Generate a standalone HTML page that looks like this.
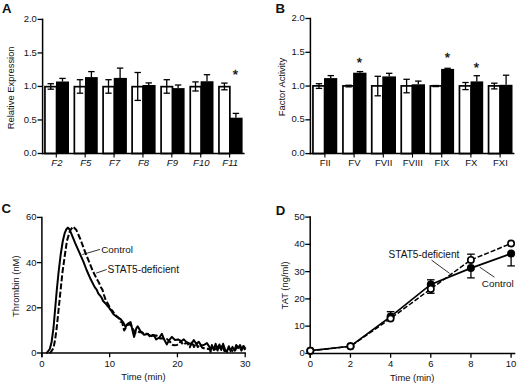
<!DOCTYPE html>
<html><head><meta charset="utf-8"><title>Figure</title>
<style>
html,body{margin:0;padding:0;background:#fff;}
body{width:520px;height:387px;overflow:hidden;font-family:"Liberation Sans",sans-serif;}
svg{display:block;}
svg text{font-family:"Liberation Sans",sans-serif;fill:#111;}
</style></head><body>
<svg width="520" height="387" viewBox="0 0 520 387">
<rect x="0" y="0" width="520" height="387" fill="#fff"/>
<rect x="44.95" y="86.65" width="11.60" height="66.85" fill="#fff" stroke="#000" stroke-width="1.7"/>
<rect x="56.00" y="81.50" width="13.00" height="72.00" fill="#000"/>
<line x1="50.75" y1="83.70" x2="50.75" y2="89.20" stroke="#000" stroke-width="1.3" />
<line x1="47.55" y1="83.70" x2="53.95" y2="83.70" stroke="#000" stroke-width="1.3" />
<line x1="47.55" y1="89.20" x2="53.95" y2="89.20" stroke="#000" stroke-width="1.3" />
<line x1="62.50" y1="78.40" x2="62.50" y2="81.50" stroke="#000" stroke-width="1.3" />
<line x1="59.30" y1="78.40" x2="65.70" y2="78.40" stroke="#000" stroke-width="1.3" />
<rect x="74.35" y="86.65" width="11.20" height="66.85" fill="#fff" stroke="#000" stroke-width="1.7"/>
<rect x="85.00" y="77.10" width="12.75" height="76.40" fill="#000"/>
<line x1="80.00" y1="79.70" x2="80.00" y2="93.20" stroke="#000" stroke-width="1.3" />
<line x1="76.80" y1="79.70" x2="83.20" y2="79.70" stroke="#000" stroke-width="1.3" />
<line x1="76.80" y1="93.20" x2="83.20" y2="93.20" stroke="#000" stroke-width="1.3" />
<line x1="91.40" y1="71.60" x2="91.40" y2="77.10" stroke="#000" stroke-width="1.3" />
<line x1="88.20" y1="71.60" x2="94.60" y2="71.60" stroke="#000" stroke-width="1.3" />
<rect x="103.10" y="86.65" width="11.20" height="66.85" fill="#fff" stroke="#000" stroke-width="1.7"/>
<rect x="113.75" y="77.90" width="13.15" height="75.60" fill="#000"/>
<line x1="108.50" y1="79.70" x2="108.50" y2="93.20" stroke="#000" stroke-width="1.3" />
<line x1="105.30" y1="79.70" x2="111.70" y2="79.70" stroke="#000" stroke-width="1.3" />
<line x1="105.30" y1="93.20" x2="111.70" y2="93.20" stroke="#000" stroke-width="1.3" />
<line x1="120.10" y1="68.10" x2="120.10" y2="77.90" stroke="#000" stroke-width="1.3" />
<line x1="116.90" y1="68.10" x2="123.30" y2="68.10" stroke="#000" stroke-width="1.3" />
<rect x="132.10" y="86.65" width="10.95" height="66.85" fill="#fff" stroke="#000" stroke-width="1.7"/>
<rect x="142.50" y="85.00" width="13.10" height="68.50" fill="#000"/>
<line x1="137.70" y1="72.50" x2="137.70" y2="100.40" stroke="#000" stroke-width="1.3" />
<line x1="134.50" y1="72.50" x2="140.90" y2="72.50" stroke="#000" stroke-width="1.3" />
<line x1="134.50" y1="100.40" x2="140.90" y2="100.40" stroke="#000" stroke-width="1.3" />
<line x1="148.75" y1="82.90" x2="148.75" y2="85.00" stroke="#000" stroke-width="1.3" />
<line x1="145.55" y1="82.90" x2="151.95" y2="82.90" stroke="#000" stroke-width="1.3" />
<rect x="161.10" y="86.65" width="11.35" height="66.85" fill="#fff" stroke="#000" stroke-width="1.7"/>
<rect x="171.90" y="88.10" width="12.70" height="65.40" fill="#000"/>
<line x1="166.75" y1="79.70" x2="166.75" y2="93.20" stroke="#000" stroke-width="1.3" />
<line x1="163.55" y1="79.70" x2="169.95" y2="79.70" stroke="#000" stroke-width="1.3" />
<line x1="163.55" y1="93.20" x2="169.95" y2="93.20" stroke="#000" stroke-width="1.3" />
<line x1="178.10" y1="85.00" x2="178.10" y2="88.10" stroke="#000" stroke-width="1.3" />
<line x1="174.90" y1="85.00" x2="181.30" y2="85.00" stroke="#000" stroke-width="1.3" />
<rect x="190.25" y="86.65" width="10.90" height="66.85" fill="#fff" stroke="#000" stroke-width="1.7"/>
<rect x="200.60" y="81.25" width="12.90" height="72.25" fill="#000"/>
<line x1="195.50" y1="81.90" x2="195.50" y2="91.00" stroke="#000" stroke-width="1.3" />
<line x1="192.30" y1="81.90" x2="198.70" y2="81.90" stroke="#000" stroke-width="1.3" />
<line x1="192.30" y1="91.00" x2="198.70" y2="91.00" stroke="#000" stroke-width="1.3" />
<line x1="207.00" y1="74.70" x2="207.00" y2="81.25" stroke="#000" stroke-width="1.3" />
<line x1="203.80" y1="74.70" x2="210.20" y2="74.70" stroke="#000" stroke-width="1.3" />
<rect x="218.95" y="86.65" width="10.90" height="66.85" fill="#fff" stroke="#000" stroke-width="1.7"/>
<rect x="229.30" y="117.70" width="13.30" height="35.80" fill="#000"/>
<line x1="224.40" y1="83.10" x2="224.40" y2="89.80" stroke="#000" stroke-width="1.3" />
<line x1="221.20" y1="83.10" x2="227.60" y2="83.10" stroke="#000" stroke-width="1.3" />
<line x1="221.20" y1="89.80" x2="227.60" y2="89.80" stroke="#000" stroke-width="1.3" />
<line x1="235.90" y1="113.40" x2="235.90" y2="117.70" stroke="#000" stroke-width="1.3" />
<line x1="232.70" y1="113.40" x2="239.10" y2="113.40" stroke="#000" stroke-width="1.3" />
<line x1="42.60" y1="18.65" x2="42.60" y2="154.25" stroke="#000" stroke-width="1.5" />
<line x1="41.85" y1="153.50" x2="244.60" y2="153.50" stroke="#000" stroke-width="1.5" />
<line x1="37.60" y1="153.50" x2="42.60" y2="153.50" stroke="#000" stroke-width="1.3" />
<text x="36.90" y="156.10" font-size="9.5" text-anchor="end" font-weight="normal" font-style="normal">0.0</text>
<line x1="37.60" y1="119.97" x2="42.60" y2="119.97" stroke="#000" stroke-width="1.3" />
<text x="36.90" y="122.57" font-size="9.5" text-anchor="end" font-weight="normal" font-style="normal">0.5</text>
<line x1="37.60" y1="86.45" x2="42.60" y2="86.45" stroke="#000" stroke-width="1.3" />
<text x="36.90" y="89.05" font-size="9.5" text-anchor="end" font-weight="normal" font-style="normal">1.0</text>
<line x1="37.60" y1="52.93" x2="42.60" y2="52.93" stroke="#000" stroke-width="1.3" />
<text x="36.90" y="55.53" font-size="9.5" text-anchor="end" font-weight="normal" font-style="normal">1.5</text>
<line x1="37.60" y1="19.40" x2="42.60" y2="19.40" stroke="#000" stroke-width="1.3" />
<text x="36.90" y="22.00" font-size="9.5" text-anchor="end" font-weight="normal" font-style="normal">2.0</text>
<line x1="56.30" y1="153.50" x2="56.30" y2="157.50" stroke="#000" stroke-width="1.1" />
<text x="56.90" y="165.60" font-size="9.5" text-anchor="middle" font-weight="normal" font-style="italic">F2</text>
<line x1="85.18" y1="153.50" x2="85.18" y2="157.50" stroke="#000" stroke-width="1.1" />
<text x="85.78" y="165.60" font-size="9.5" text-anchor="middle" font-weight="normal" font-style="italic">F5</text>
<line x1="114.06" y1="153.50" x2="114.06" y2="157.50" stroke="#000" stroke-width="1.1" />
<text x="114.66" y="165.60" font-size="9.5" text-anchor="middle" font-weight="normal" font-style="italic">F7</text>
<line x1="142.94" y1="153.50" x2="142.94" y2="157.50" stroke="#000" stroke-width="1.1" />
<text x="143.54" y="165.60" font-size="9.5" text-anchor="middle" font-weight="normal" font-style="italic">F8</text>
<line x1="171.82" y1="153.50" x2="171.82" y2="157.50" stroke="#000" stroke-width="1.1" />
<text x="172.42" y="165.60" font-size="9.5" text-anchor="middle" font-weight="normal" font-style="italic">F9</text>
<line x1="200.70" y1="153.50" x2="200.70" y2="157.50" stroke="#000" stroke-width="1.1" />
<text x="201.30" y="165.60" font-size="9.5" text-anchor="middle" font-weight="normal" font-style="italic">F10</text>
<line x1="229.58" y1="153.50" x2="229.58" y2="157.50" stroke="#000" stroke-width="1.1" />
<text x="230.18" y="165.60" font-size="9.5" text-anchor="middle" font-weight="normal" font-style="italic">F11</text>
<text x="235.50" y="78.65" font-size="13.5" text-anchor="middle" stroke="#111" stroke-width="0.35">*</text>
<text x="14.40" y="87.85" font-size="9.4" text-anchor="middle" font-weight="normal" font-style="normal" transform="rotate(-90 14.40 87.85)">Relative Expression</text>
<text x="2.00" y="13.40" font-size="13.2" text-anchor="start" font-weight="bold" font-style="normal">A</text>
<rect x="312.95" y="85.90" width="11.60" height="67.70" fill="#fff" stroke="#000" stroke-width="1.7"/>
<rect x="324.00" y="78.10" width="13.25" height="75.50" fill="#000"/>
<line x1="319.00" y1="83.70" x2="319.00" y2="88.40" stroke="#000" stroke-width="1.3" />
<line x1="315.80" y1="83.70" x2="322.20" y2="83.70" stroke="#000" stroke-width="1.3" />
<line x1="315.80" y1="88.40" x2="322.20" y2="88.40" stroke="#000" stroke-width="1.3" />
<line x1="330.75" y1="75.60" x2="330.75" y2="78.10" stroke="#000" stroke-width="1.3" />
<line x1="327.55" y1="75.60" x2="333.95" y2="75.60" stroke="#000" stroke-width="1.3" />
<rect x="342.95" y="85.90" width="10.70" height="67.70" fill="#fff" stroke="#000" stroke-width="1.7"/>
<rect x="353.10" y="72.70" width="13.40" height="80.90" fill="#000"/>
<line x1="348.60" y1="85.24" x2="348.60" y2="86.86" stroke="#000" stroke-width="1.3" />
<line x1="345.40" y1="85.24" x2="351.80" y2="85.24" stroke="#000" stroke-width="1.3" />
<line x1="345.40" y1="86.86" x2="351.80" y2="86.86" stroke="#000" stroke-width="1.3" />
<line x1="360.00" y1="71.60" x2="360.00" y2="72.70" stroke="#000" stroke-width="1.3" />
<line x1="356.80" y1="71.60" x2="363.20" y2="71.60" stroke="#000" stroke-width="1.3" />
<rect x="371.75" y="85.90" width="11.10" height="67.70" fill="#fff" stroke="#000" stroke-width="1.7"/>
<rect x="382.30" y="76.40" width="13.70" height="77.20" fill="#000"/>
<line x1="377.75" y1="76.30" x2="377.75" y2="95.80" stroke="#000" stroke-width="1.3" />
<line x1="374.55" y1="76.30" x2="380.95" y2="76.30" stroke="#000" stroke-width="1.3" />
<line x1="374.55" y1="95.80" x2="380.95" y2="95.80" stroke="#000" stroke-width="1.3" />
<line x1="389.20" y1="73.30" x2="389.20" y2="76.40" stroke="#000" stroke-width="1.3" />
<line x1="386.00" y1="73.30" x2="392.40" y2="73.30" stroke="#000" stroke-width="1.3" />
<rect x="401.25" y="85.90" width="11.10" height="67.70" fill="#fff" stroke="#000" stroke-width="1.7"/>
<rect x="411.80" y="84.30" width="13.20" height="69.30" fill="#000"/>
<line x1="406.60" y1="79.30" x2="406.60" y2="92.80" stroke="#000" stroke-width="1.3" />
<line x1="403.40" y1="79.30" x2="409.80" y2="79.30" stroke="#000" stroke-width="1.3" />
<line x1="403.40" y1="92.80" x2="409.80" y2="92.80" stroke="#000" stroke-width="1.3" />
<line x1="418.30" y1="81.10" x2="418.30" y2="84.30" stroke="#000" stroke-width="1.3" />
<line x1="415.10" y1="81.10" x2="421.50" y2="81.10" stroke="#000" stroke-width="1.3" />
<rect x="430.35" y="85.90" width="11.30" height="67.70" fill="#fff" stroke="#000" stroke-width="1.7"/>
<rect x="441.10" y="68.90" width="13.00" height="84.70" fill="#000"/>
<line x1="435.70" y1="85.51" x2="435.70" y2="86.59" stroke="#000" stroke-width="1.3" />
<line x1="432.50" y1="85.51" x2="438.90" y2="85.51" stroke="#000" stroke-width="1.3" />
<line x1="432.50" y1="86.59" x2="438.90" y2="86.59" stroke="#000" stroke-width="1.3" />
<line x1="447.60" y1="68.30" x2="447.60" y2="68.90" stroke="#000" stroke-width="1.3" />
<line x1="444.40" y1="68.30" x2="450.80" y2="68.30" stroke="#000" stroke-width="1.3" />
<rect x="459.45" y="85.90" width="11.60" height="67.70" fill="#fff" stroke="#000" stroke-width="1.7"/>
<rect x="470.50" y="81.40" width="12.70" height="72.20" fill="#000"/>
<line x1="465.50" y1="82.50" x2="465.50" y2="89.60" stroke="#000" stroke-width="1.3" />
<line x1="462.30" y1="82.50" x2="468.70" y2="82.50" stroke="#000" stroke-width="1.3" />
<line x1="462.30" y1="89.60" x2="468.70" y2="89.60" stroke="#000" stroke-width="1.3" />
<line x1="476.80" y1="75.70" x2="476.80" y2="81.40" stroke="#000" stroke-width="1.3" />
<line x1="473.60" y1="75.70" x2="480.00" y2="75.70" stroke="#000" stroke-width="1.3" />
<rect x="488.55" y="85.90" width="11.50" height="67.70" fill="#fff" stroke="#000" stroke-width="1.7"/>
<rect x="499.50" y="84.80" width="13.00" height="68.80" fill="#000"/>
<line x1="494.30" y1="83.20" x2="494.30" y2="88.90" stroke="#000" stroke-width="1.3" />
<line x1="491.10" y1="83.20" x2="497.50" y2="83.20" stroke="#000" stroke-width="1.3" />
<line x1="491.10" y1="88.90" x2="497.50" y2="88.90" stroke="#000" stroke-width="1.3" />
<line x1="506.10" y1="75.20" x2="506.10" y2="84.80" stroke="#000" stroke-width="1.3" />
<line x1="502.90" y1="75.20" x2="509.30" y2="75.20" stroke="#000" stroke-width="1.3" />
<line x1="310.40" y1="17.75" x2="310.40" y2="154.35" stroke="#000" stroke-width="1.5" />
<line x1="309.65" y1="153.60" x2="514.40" y2="153.60" stroke="#000" stroke-width="1.5" />
<line x1="305.40" y1="153.60" x2="310.40" y2="153.60" stroke="#000" stroke-width="1.3" />
<text x="304.70" y="156.20" font-size="9.5" text-anchor="end" font-weight="normal" font-style="normal">0.0</text>
<line x1="305.40" y1="119.82" x2="310.40" y2="119.82" stroke="#000" stroke-width="1.3" />
<text x="304.70" y="122.42" font-size="9.5" text-anchor="end" font-weight="normal" font-style="normal">0.5</text>
<line x1="305.40" y1="86.05" x2="310.40" y2="86.05" stroke="#000" stroke-width="1.3" />
<text x="304.70" y="88.65" font-size="9.5" text-anchor="end" font-weight="normal" font-style="normal">1.0</text>
<line x1="305.40" y1="52.28" x2="310.40" y2="52.28" stroke="#000" stroke-width="1.3" />
<text x="304.70" y="54.88" font-size="9.5" text-anchor="end" font-weight="normal" font-style="normal">1.5</text>
<line x1="305.40" y1="18.50" x2="310.40" y2="18.50" stroke="#000" stroke-width="1.3" />
<text x="304.70" y="21.10" font-size="9.5" text-anchor="end" font-weight="normal" font-style="normal">2.0</text>
<line x1="324.90" y1="153.60" x2="324.90" y2="157.60" stroke="#000" stroke-width="1.1" />
<text x="325.20" y="165.70" font-size="9.5" text-anchor="middle" font-weight="normal" font-style="normal">FII</text>
<line x1="354.10" y1="153.60" x2="354.10" y2="157.60" stroke="#000" stroke-width="1.1" />
<text x="354.40" y="165.70" font-size="9.5" text-anchor="middle" font-weight="normal" font-style="normal">FV</text>
<line x1="383.30" y1="153.60" x2="383.30" y2="157.60" stroke="#000" stroke-width="1.1" />
<text x="383.60" y="165.70" font-size="9.5" text-anchor="middle" font-weight="normal" font-style="normal">FVII</text>
<line x1="412.50" y1="153.60" x2="412.50" y2="157.60" stroke="#000" stroke-width="1.1" />
<text x="412.80" y="165.70" font-size="9.5" text-anchor="middle" font-weight="normal" font-style="normal">FVIII</text>
<line x1="441.70" y1="153.60" x2="441.70" y2="157.60" stroke="#000" stroke-width="1.1" />
<text x="442.00" y="165.70" font-size="9.5" text-anchor="middle" font-weight="normal" font-style="normal">FIX</text>
<line x1="470.90" y1="153.60" x2="470.90" y2="157.60" stroke="#000" stroke-width="1.1" />
<text x="471.20" y="165.70" font-size="9.5" text-anchor="middle" font-weight="normal" font-style="normal">FX</text>
<line x1="500.10" y1="153.60" x2="500.10" y2="157.60" stroke="#000" stroke-width="1.1" />
<text x="500.40" y="165.70" font-size="9.5" text-anchor="middle" font-weight="normal" font-style="normal">FXI</text>
<text x="359.50" y="66.50" font-size="13.5" text-anchor="middle" stroke="#111" stroke-width="0.35">*</text>
<text x="447.50" y="61.75" font-size="13.5" text-anchor="middle" stroke="#111" stroke-width="0.35">*</text>
<text x="476.50" y="72.45" font-size="13.5" text-anchor="middle" stroke="#111" stroke-width="0.35">*</text>
<text x="285.20" y="87.05" font-size="9.4" text-anchor="middle" font-weight="normal" font-style="normal" transform="rotate(-90 285.20 87.05)">Factor Activity</text>
<text x="275.60" y="12.70" font-size="13.2" text-anchor="start" font-weight="bold" font-style="normal">B</text>
<path d="M49.5,353.0 L50.5,352.6 L53.5,348.0 L55.1,339.8 L56.7,328.0 L58.6,309.5 L60.5,291.0 L62.5,272.0 L64.8,255.5 L66.9,241.0 L70.0,230.7 L73.1,226.6 L76.2,229.7 L80.3,239.0 L84.5,250.3 L88.6,260.7 L92.8,271.0 L96.9,279.3 L97.1,279.6 L99.0,282.7 L100.5,286.7 L102.4,289.6 L103.9,294.7 L105.5,299.6 L107.2,302.5 L109.3,306.5 L110.4,309.6 L112.3,310.5 L114.1,313.2 L115.6,315.2 L117.7,317.1 L119.2,318.4 L120.4,321.7 L122.0,322.0 L124.2,330.5 L127.0,325.6 L129.1,324.1 L131.3,325.6 L133.5,330.2 L135.4,332.7 L137.8,331.4 L139.8,332.3 L141.7,332.1 L143.9,333.6 L145.9,333.8 L147.7,333.7 L150.2,336.9 L152.4,335.1 L154.3,335.5 L156.2,335.5 L158.2,336.4 L160.1,338.6 L162.2,338.2 L164.2,339.2 L166.6,338.9 L168.4,340.2 L170.4,342.3 L172.2,344.7 L174.4,345.2 L176.9,345.0 L179.0,343.7 L180.8,341.1 L183.0,344.9 L185.1,343.5 L187.3,342.8 L189.8,347.3 L191.9,341.9 L194.0,347.0 L196.0,342.9 L197.8,347.0 L200.1,344.4 L202.3,347.8 L204.9,348.6 L207.0,348.7 L209.5,349.3 L211.9,347.7 L214.1,349.6 L216.3,348.9 L218.2,344.7 L220.2,348.2 L222.4,345.7 L224.3,351.0 L226.0,350.9 L228.4,348.7 L231.0,349.6 L232.7,351.4 L234.8,351.3 L237.2,346.1 L239.0,345.3 L241.4,350.6 L243.3,346.1 L245.3,350.8" fill="none" stroke="#000" stroke-width="2.0" stroke-dasharray="6 2.2" stroke-linejoin="round"/>
<path d="M46.0,353.0 L47.0,352.6 L49.8,349.0 L51.6,342.0 L53.5,328.0 L55.1,309.5 L56.7,291.0 L58.6,272.0 L60.7,254.5 L62.8,241.0 L64.8,232.8 L66.5,229.0 L67.9,227.6 L69.3,229.0 L71.0,232.8 L75.2,243.1 L79.3,252.4 L83.4,261.7 L86.6,270.0 L90.7,279.3 L94.7,287.1 L96.8,289.9 L98.2,293.3 L100.3,295.8 L101.8,298.0 L103.1,301.0 L105.3,303.2 L107.1,305.5 L108.4,306.9 L110.7,309.8 L112.3,312.4 L113.5,314.2 L117.0,317.0 L120.6,319.2 L123.4,322.7 L125.6,327.0 L127.0,324.5 L128.4,323.4 L130.6,322.0 L132.7,331.3 L134.1,336.9 L136.3,328.4 L137.7,326.3 L140.5,331.3 L144.1,334.8 L147.6,334.1 L151.2,336.2 L153.8,335.0 L156.2,339.4 L159.4,337.5 L161.9,333.8 L164.4,340.0 L166.9,344.4 L168.8,340.6 L171.9,336.9 L175.0,340.0 L178.1,339.4 L181.2,341.2 L183.8,339.4 L186.2,341.9 L188.8,343.1 L191.2,344.4 L193.8,340.0 L196.2,343.8 L198.8,341.9 L201.2,345.6 L203.8,345.0 L206.9,343.1 L209.4,346.9 L210.6,351.9 L211.9,345.0 L213.8,350.0 L215.6,343.8 L217.5,350.6 L219.4,344.4 L221.2,350.0 L223.1,343.8 L225.0,349.4 L226.9,351.9 L228.8,346.2 L230.6,351.2 L232.5,346.9 L234.4,350.6 L236.2,345.0 L238.1,348.1 L240.0,345.0 L241.9,349.4 L243.8,346.2 L245.6,348.8" fill="none" stroke="#000" stroke-width="2.0" stroke-linejoin="round"/>
<line x1="41.90" y1="216.65" x2="41.90" y2="357.30" stroke="#000" stroke-width="1.5" />
<line x1="41.15" y1="353.00" x2="245.90" y2="353.00" stroke="#000" stroke-width="1.5" />
<line x1="36.90" y1="353.00" x2="41.90" y2="353.00" stroke="#000" stroke-width="1.3" />
<text x="36.60" y="356.05" font-size="9.5" text-anchor="end" font-weight="normal" font-style="normal">0</text>
<line x1="36.90" y1="307.80" x2="41.90" y2="307.80" stroke="#000" stroke-width="1.3" />
<text x="36.60" y="310.85" font-size="9.5" text-anchor="end" font-weight="normal" font-style="normal">20</text>
<line x1="36.90" y1="262.60" x2="41.90" y2="262.60" stroke="#000" stroke-width="1.3" />
<text x="36.60" y="265.65" font-size="9.5" text-anchor="end" font-weight="normal" font-style="normal">40</text>
<line x1="36.90" y1="217.40" x2="41.90" y2="217.40" stroke="#000" stroke-width="1.3" />
<text x="36.60" y="220.45" font-size="9.5" text-anchor="end" font-weight="normal" font-style="normal">60</text>
<line x1="41.90" y1="353.00" x2="41.90" y2="357.30" stroke="#000" stroke-width="1.3" />
<text x="41.90" y="367.00" font-size="9.5" text-anchor="middle" font-weight="normal" font-style="normal">0</text>
<line x1="109.67" y1="353.00" x2="109.67" y2="357.30" stroke="#000" stroke-width="1.3" />
<text x="109.67" y="367.00" font-size="9.5" text-anchor="middle" font-weight="normal" font-style="normal">10</text>
<line x1="177.43" y1="353.00" x2="177.43" y2="357.30" stroke="#000" stroke-width="1.3" />
<text x="177.43" y="367.00" font-size="9.5" text-anchor="middle" font-weight="normal" font-style="normal">20</text>
<line x1="245.20" y1="353.00" x2="245.20" y2="357.30" stroke="#000" stroke-width="1.3" />
<text x="245.20" y="367.00" font-size="9.5" text-anchor="middle" font-weight="normal" font-style="normal">30</text>
<text x="143.50" y="380.40" font-size="9.4" text-anchor="middle" font-weight="normal" font-style="normal">Time (min)</text>
<text x="19.00" y="286.20" font-size="9.4" text-anchor="middle" font-weight="normal" font-style="normal" transform="rotate(-90 19.00 286.20)">Thrombin (nM)</text>
<text x="1.40" y="213.30" font-size="13.2" text-anchor="start" font-weight="bold" font-style="normal">C</text>
<text x="101.20" y="252.50" font-size="9.9" text-anchor="start" font-weight="normal" font-style="normal">Control</text>
<text x="107.60" y="273.30" font-size="10.2" text-anchor="start" font-weight="normal" font-style="normal">STAT5-deficient</text>
<line x1="100.00" y1="249.40" x2="82.40" y2="254.50" stroke="#000" stroke-width="0.8" />
<line x1="106.70" y1="269.50" x2="96.20" y2="273.10" stroke="#000" stroke-width="0.8" />
<line x1="310.20" y1="216.35" x2="310.20" y2="357.70" stroke="#000" stroke-width="1.5" />
<line x1="309.45" y1="353.40" x2="515.30" y2="353.40" stroke="#000" stroke-width="1.5" />
<line x1="305.20" y1="353.40" x2="310.20" y2="353.40" stroke="#000" stroke-width="1.3" />
<text x="304.90" y="356.45" font-size="9.5" text-anchor="end" font-weight="normal" font-style="normal">0</text>
<line x1="305.20" y1="326.14" x2="310.20" y2="326.14" stroke="#000" stroke-width="1.3" />
<text x="304.90" y="329.19" font-size="9.5" text-anchor="end" font-weight="normal" font-style="normal">10</text>
<line x1="305.20" y1="298.88" x2="310.20" y2="298.88" stroke="#000" stroke-width="1.3" />
<text x="304.90" y="301.93" font-size="9.5" text-anchor="end" font-weight="normal" font-style="normal">20</text>
<line x1="305.20" y1="271.62" x2="310.20" y2="271.62" stroke="#000" stroke-width="1.3" />
<text x="304.90" y="274.67" font-size="9.5" text-anchor="end" font-weight="normal" font-style="normal">30</text>
<line x1="305.20" y1="244.36" x2="310.20" y2="244.36" stroke="#000" stroke-width="1.3" />
<text x="304.90" y="247.41" font-size="9.5" text-anchor="end" font-weight="normal" font-style="normal">40</text>
<line x1="305.20" y1="217.10" x2="310.20" y2="217.10" stroke="#000" stroke-width="1.3" />
<text x="304.90" y="220.15" font-size="9.5" text-anchor="end" font-weight="normal" font-style="normal">50</text>
<line x1="310.30" y1="353.40" x2="310.30" y2="357.70" stroke="#000" stroke-width="1.3" />
<text x="310.30" y="367.40" font-size="9.5" text-anchor="middle" font-weight="normal" font-style="normal">0</text>
<line x1="350.46" y1="353.40" x2="350.46" y2="357.70" stroke="#000" stroke-width="1.3" />
<text x="350.46" y="367.40" font-size="9.5" text-anchor="middle" font-weight="normal" font-style="normal">2</text>
<line x1="390.62" y1="353.40" x2="390.62" y2="357.70" stroke="#000" stroke-width="1.3" />
<text x="390.62" y="367.40" font-size="9.5" text-anchor="middle" font-weight="normal" font-style="normal">4</text>
<line x1="430.78" y1="353.40" x2="430.78" y2="357.70" stroke="#000" stroke-width="1.3" />
<text x="430.78" y="367.40" font-size="9.5" text-anchor="middle" font-weight="normal" font-style="normal">6</text>
<line x1="470.94" y1="353.40" x2="470.94" y2="357.70" stroke="#000" stroke-width="1.3" />
<text x="470.94" y="367.40" font-size="9.5" text-anchor="middle" font-weight="normal" font-style="normal">8</text>
<line x1="511.10" y1="353.40" x2="511.10" y2="357.70" stroke="#000" stroke-width="1.3" />
<text x="511.10" y="367.40" font-size="9.5" text-anchor="middle" font-weight="normal" font-style="normal">10</text>
<line x1="390.62" y1="316.60" x2="390.62" y2="311.69" stroke="#000" stroke-width="1.3" />
<line x1="386.82" y1="311.69" x2="394.42" y2="311.69" stroke="#000" stroke-width="1.3" />
<line x1="430.78" y1="284.43" x2="430.78" y2="279.80" stroke="#000" stroke-width="1.3" />
<line x1="426.98" y1="279.80" x2="434.58" y2="279.80" stroke="#000" stroke-width="1.3" />
<line x1="470.94" y1="268.08" x2="470.94" y2="277.89" stroke="#000" stroke-width="1.3" />
<line x1="467.14" y1="277.89" x2="474.74" y2="277.89" stroke="#000" stroke-width="1.3" />
<line x1="511.10" y1="253.63" x2="511.10" y2="265.90" stroke="#000" stroke-width="1.3" />
<line x1="507.30" y1="265.90" x2="514.90" y2="265.90" stroke="#000" stroke-width="1.3" />
<line x1="430.78" y1="288.93" x2="430.78" y2="293.29" stroke="#000" stroke-width="1.3" />
<line x1="426.98" y1="293.29" x2="434.58" y2="293.29" stroke="#000" stroke-width="1.3" />
<line x1="470.94" y1="259.90" x2="470.94" y2="254.17" stroke="#000" stroke-width="1.3" />
<line x1="467.14" y1="254.17" x2="474.74" y2="254.17" stroke="#000" stroke-width="1.3" />
<path d="M310.3,350.7 L350.5,346.3 L390.6,318.5 L430.8,288.9 L470.9,259.9 L511.1,243.5" fill="none" stroke="#000" stroke-width="1.5" stroke-dasharray="5 2"/>
<path d="M310.3,350.7 L350.5,346.3 L390.6,316.6 L430.8,284.4 L470.9,268.1 L511.1,253.6" fill="none" stroke="#000" stroke-width="1.7"/>
<circle cx="310.3" cy="350.7" r="4.0" fill="#000"/>
<circle cx="350.5" cy="346.3" r="4.0" fill="#000"/>
<circle cx="390.6" cy="316.6" r="4.0" fill="#000"/>
<circle cx="430.8" cy="284.4" r="4.0" fill="#000"/>
<circle cx="470.9" cy="268.1" r="4.0" fill="#000"/>
<circle cx="511.1" cy="253.6" r="4.0" fill="#000"/>
<circle cx="310.3" cy="350.7" r="3.15" fill="#fff" stroke="#000" stroke-width="1.65"/>
<circle cx="350.5" cy="346.3" r="3.15" fill="#fff" stroke="#000" stroke-width="1.65"/>
<circle cx="390.6" cy="318.5" r="3.15" fill="#fff" stroke="#000" stroke-width="1.65"/>
<circle cx="430.8" cy="288.9" r="3.15" fill="#fff" stroke="#000" stroke-width="1.65"/>
<circle cx="470.9" cy="259.9" r="3.15" fill="#fff" stroke="#000" stroke-width="1.65"/>
<circle cx="511.1" cy="243.5" r="3.15" fill="#fff" stroke="#000" stroke-width="1.65"/>
<text x="412.20" y="380.70" font-size="9.4" text-anchor="middle" font-weight="normal" font-style="normal">Time (min)</text>
<text x="287.60" y="285.40" font-size="9.4" text-anchor="middle" font-weight="normal" font-style="normal" transform="rotate(-90 287.60 285.40)">TAT (ng/ml)</text>
<text x="275.70" y="214.90" font-size="13.2" text-anchor="start" font-weight="bold" font-style="normal">D</text>
<text x="388.50" y="257.80" font-size="10.1" text-anchor="start" font-weight="normal" font-style="normal">STAT5-deficient</text>
<text x="481.80" y="287.00" font-size="9.9" text-anchor="start" font-weight="normal" font-style="normal">Control</text>
<line x1="431.60" y1="260.20" x2="449.50" y2="273.30" stroke="#000" stroke-width="0.8" />
<line x1="479.70" y1="267.10" x2="494.40" y2="277.20" stroke="#000" stroke-width="0.8" />
</svg>
</body></html>
